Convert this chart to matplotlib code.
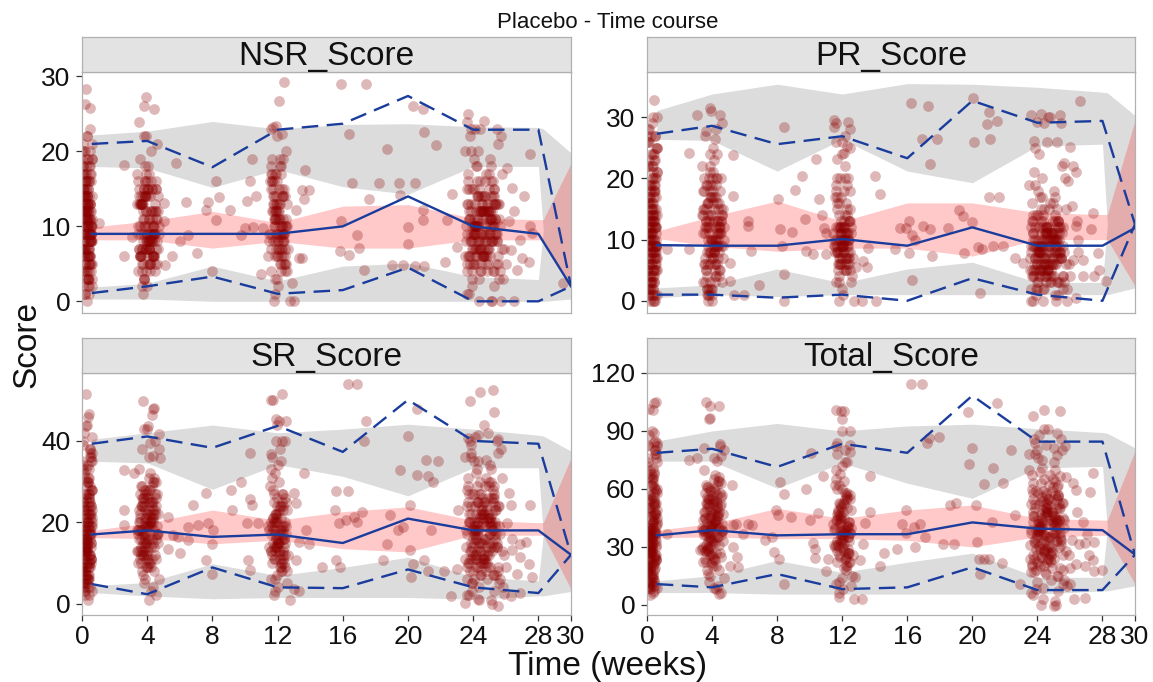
import matplotlib
matplotlib.use("Agg")
import matplotlib.pyplot as plt

plt.rcParams['font.family'] = ['Liberation Sans', 'DejaVu Sans']

# ---------------- data ----------------
bin_x = [0.6, 4, 8, 12, 16, 20, 24, 28, 30]
band_x = [0.6, 4, 8, 12, 16, 20, 24, 28, 28.3, 30]
x_ticks = [0, 4, 8, 12, 16, 20, 24, 28, 30]

# shared observation times of the dense visit clusters
t0 = [0.05,0.31,0.18,0.52,0.09,0.44,0.27,0.60,0.13,0.38,
      0.22,0.55,0.03,0.47,0.34,0.16,0.58,0.25,0.41,0.07,
      0.50,0.29,0.12,0.36,0.62,0.20,0.45,0.10,0.33,0.56,
      0.15,0.40,0.24,0.53,0.06,0.30,0.48,0.19,0.37,0.60,
      0.11,0.43,0.26,0.51,0.08,0.35,0.21,0.57,0.14,0.46,
      0.32,0.02,0.39,0.23,0.54,0.17,0.42,0.28,0.61,0.04,
      0.49,0.30,0.13,0.37,0.58,0.22,0.45,0.09,0.34,0.52,
      0.27,0.06,0.41,0.19,0.55,0.12,0.36,0.48,0.01,0.31,
      0.16,0.44,0.24,0.59,0.08,0.39,0.20,0.50,0.33,0.14,
      0.47,0.26,0.57,0.10,0.35,0.21,0.43,0.05,0.29,0.53]
t0b = [0.12,0.40,0.25,0.58,0.05,0.33,0.47,0.18,0.63,0.29,
       0.09,0.52,0.36,0.21,0.44,0.02,0.56,0.27,0.39,0.14,
       0.61,0.31,0.07,0.49,0.23,0.42,0.16,0.54,0.34,0.11,
       0.46,0.26,0.59,0.04,0.37,0.20,0.51,0.30,0.13,0.43,
       0.24,0.57,0.08,0.35,0.48,0.17,0.62,0.28,0.41,0.06,
       0.53,0.19,0.38,0.10,0.45,0.32,0.60,0.15,0.50,0.22]
t4 = [3.98,4.30,3.62,4.52,3.80,4.15,3.48,4.65,4.05,3.70,
      4.38,3.88,4.10,3.42,4.45,3.75,4.22,3.55,4.60,4.00,
      3.66,4.33,3.85,4.12,3.38,4.50,3.92,4.26,3.58,4.72,
      4.03,3.73,4.40,3.52,4.18,3.83,4.56,3.45,4.08,3.78,
      4.35,3.95,4.62,3.64,4.20,3.90,3.56,4.44,4.06,3.76,
      4.28,3.40,4.54,3.86,4.11,3.69,4.37,4.00,3.54,4.68,
      3.82,4.17,3.60,4.32,3.93,4.09,3.47,4.49,3.79,4.14,
      4.02,3.63,4.41,3.91,4.24,3.72,4.58,3.81,4.07,3.50,
      4.31,3.97,3.67,4.19,3.87,4.36,3.44,4.53,3.94,4.75]
t4b = [4.12,3.76,4.44,3.58,4.27,3.90,4.62,3.68,4.05,3.84,
       4.33,3.52,4.19,3.97,4.50,3.63,4.08,3.80,4.38,3.72,
       4.24,3.94,4.56,3.46,4.15,3.87,4.41,3.60,4.02,4.30,
       3.78,4.21,3.66,4.47,3.92,4.10,3.55,4.35,3.85,4.68,
       4.00,3.74,4.26,3.96,4.53,3.70,4.14,3.88,4.43,3.61]
t12 = [12.08,11.70,12.40,11.88,12.20,11.58,12.52,11.82,12.28,12.00,
       11.64,12.34,11.94,12.14,11.50,12.46,11.76,12.24,11.90,12.60,
       12.02,11.73,12.37,11.61,12.17,11.85,12.49,11.97,12.31,11.44,
       12.11,11.79,12.43,11.67,12.21,11.93,12.56,11.54,12.35,12.05,
       11.84,12.16,11.71,12.47,11.96,12.27,11.59,12.66,11.89,12.09,
       12.38,11.81,12.13,11.68,12.51,12.01,11.48,12.32,11.87,12.23,
       11.78,12.44,11.98,12.19,11.62,12.55,12.06,11.86,12.36,12.75]
t12b = [12.04,11.72,12.33,11.86,12.18,11.62,12.45,11.95,12.26,11.79,
        12.10,11.68,12.39,11.90,12.22,11.57,12.50,11.83,12.14,12.01,
        11.75,12.29,11.92,12.07,11.65,12.42,11.88,12.20,11.80,12.35,
        11.97,12.12,11.70,12.47,11.85,12.24,11.60,12.03,12.31,11.93]
t24 = [24.10,24.85,23.75,25.30,24.45,23.95,25.10,24.60,23.60,25.55,
       24.30,24.95,23.85,25.20,24.70,24.00,25.45,24.20,23.70,25.00,
       24.55,23.90,25.35,24.15,24.80,23.65,25.15,24.40,25.70,24.05,
       24.90,23.80,25.25,24.35,24.75,23.55,25.05,24.50,25.60,24.25,
       23.98,24.65,25.40,24.12,24.88,23.72,25.18,24.42,25.85,24.02,
       24.58,23.88,25.32,24.18,24.78,23.62,25.08,24.48,25.50,24.28,
       24.92,23.78,25.22,24.38,24.68,23.52,25.12,24.52,25.65,24.08,
       24.35,24.82,23.92,25.28,24.62,24.05,25.48,24.22,23.68,25.02,
       24.72,23.84,25.38,24.16,24.98,23.58,25.14,24.44,25.78,24.06,
       24.86,23.76,25.26,24.32,24.64,23.50,25.06,24.56,25.58,24.24,
       24.14,24.90,23.82,25.34,24.46,24.02,25.44,24.26,23.74,25.04,
       24.60,23.94,25.36,24.20,24.84,23.66,25.16,24.40,25.92,24.10,
       24.96,23.86,25.24,24.36,24.70,23.60,25.10,24.50,26.00,24.30]
t24b = [24.20,24.75,23.85,25.15,24.50,24.00,25.35,24.65,23.70,25.05,
        24.40,24.90,23.95,25.25,24.60,24.10,25.50,24.30,23.80,24.95,
        24.55,24.05,25.30,24.25,24.80,23.75,25.10,24.45,25.60,24.15,
        24.85,23.90,25.20,24.35,24.70,23.65,25.00,24.58,25.45,24.28,
        24.08,24.68,25.40,24.18,24.88,23.82,25.12,24.48,25.75,24.02,
        24.62,23.92,25.28,24.22,24.78,23.72,25.08,24.52,25.55,24.32,
        24.98,23.86,25.18,24.42,24.72,23.60,25.22,24.38,25.65,24.12]

# ---- NSR_Score ----
nsr_c0 = [9,14,5,18,2,11,7,21,12,3, 16,8,20,6,13,1,10,17,4,15, 9,22,11,7,19,13,5,12,0,16,
          8,14,3,10,18,6,23,9,12,2, 15,7,11,20,4,13,17,8,10,1, 14,6,19,9,12,5,16,11,3,21,
          8,13,7,15,10,4,18,9,2,12, 11,17,6,14,9,20,3,13,7,16, 10,5,12,19,8,15,1,11,22,6,
          13,9,17,4,10,14,7,18,12,8]
nsr_c0b = [12,6,15,9,17,4,11,8,14,10, 7,13,3,16,9,19,5,12,10,15, 8,11,14,6,18,2,13,9,12,7,
           16,10,5,14,11,20,8,13,6,9, 12,4,15,10,17,7,11,14,3,13, 9,16,6,12,8,19,10,14,5,11]
nsr_c4 = [8,15,6,12,3,9,14,7,18,5, 10,16,7,4,13,8,20,6,11,15, 2,9,14,7,17,5,12,8,19,10,
          6,13,9,15,4,11,7,16,8,3, 12,7,21,9,5,14,10,6,15,1, 8,13,11,7,17,4,9,16,6,12,
          10,5,14,8,22,7,13,9,3,11, 15,6,10,8,16,12,5,9,14,7, 11,2,13,8,18,6,10,15,4,9]
nsr_c4b = [7,14,9,6,15,12,8,13,5,16, 10,7,14,9,4,13,8,15,6,11, 12,7,16,9,5,14,8,13,10,6,
           15,9,7,12,17,8,13,6,10,14, 9,5,12,8,15,7,11,14,6,13]
nsr_c12 = [9,15,5,12,18,7,10,3,14,8, 16,11,6,19,9,4,13,7,17,10, 2,12,8,15,5,11,20,9,14,6,
           13,0,10,17,7,12,4,16,9,11, 6,18,8,14,3,10,23,7,13,15, 9,1,11,16,5,12,8,19,10,6,
           14,7,22,9,4,13,11,17,8,0]
nsr_c12b = [8,14,6,11,17,9,5,13,10,16, 7,12,15,9,4,18,11,8,13,6, 10,15,7,12,19,9,14,5,11,8,
            16,10,13,6,12,9,17,7,14,11]
nsr_c24 = [10,6,15,8,12,3,18,9,13,5, 11,7,20,4,14,9,23,6,16,12, 8,2,13,10,17,5,11,7,22,9,
           12,6,15,0,10,8,19,4,13,11, 7,14,9,23,5,12,8,16,3,10, 6,13,11,18,9,1,14,7,21,10,
           12,5,16,8,24,6,11,13,4,9, 15,7,10,2,12,19,8,14,6,11, 9,23,13,5,17,10,0,12,7,15,
           8,11,4,14,6,20,9,12,3,16, 10,7,22,13,5,11,8,18,1,12, 6,15,9,12,4,17,10,23,7,13,
           11,8,14,3,16,9,0,12,5,20]
nsr_c24b = [9,6,12,8,14,5,11,7,13,10, 4,12,8,15,6,10,13,7,11,9, 14,5,10,8,12,6,16,9,11,7,
            13,4,10,12,8,15,6,11,9,14, 7,12,5,10,13,8,11,6,17,9, 12,7,14,10,5,11,8,13,6,10,
            15,9,12,7,11,4,13,8,10,6]
nsr_sx = [0.23,0.2,0.5,1.06,2.6,2.6,3.05,3.9,3.8,4.4, 3.5,3.8,5.0,5.05,5.1,5.5,5.75,6.0,6.4,6.5,
          7.05,7.75,7.6,8.2,8.2,8.0,8.4,9.1,9.75,10.0, 10.1,10.3,10.45,10.5,10.7,11.0,11.1,12.4,12.1,12.3,
          11.7,11.9,13.7,13.5,13.6,13.9,13.15,13.3,13.5,13.0, 12.9,15.9,17.45,16.4,16.55,15.9,15.85,16.4,16.9,17.0,
          17.3,17.6,18.2,18.7,19.0,19.45,19.5,19.7,20.0,20.0, 20.3,20.95,21.0,20.4,20.4,21.0,20.9,20.9,21.7,22.3,
          22.4,22.7,23.0,23.7,23.6,26.1,26.4,26.5,26.2,26.3, 26.9,26.7,27.0,27.1,27.4,27.5,27.5,27.6,25.7,26.5,29.5]
nsr_sy = [28.3,26.3,25.8,10.4,18.2,6.1,8.6,27.3,26,25.7, 23.9,22,13.1,10.7,4.8,6,18.4,8,13.3,8.9,
          6.4,13.3,12.2,10.9,16.1,4,13.9,12.2,8.8,9.8, 13.4,16,19,9.9,14,3.7,9.8,29.2,26.7,22.3,
          23.2,23.4,17.5,14.9,13.6,14.9,12.2,5.8,5.8,0, 2.4,29,29,22.3,15.8,10.7,6.7,6.2,8.9,7.1,
          4.2,13.7,15.8,20.3,4.9,15.8,14.2,4.9,9.9,7.6, 26.1,25.7,22.6,15.8,4.7,4.7,12.2,10.9,20.9,5.3,
          10.9,14.3,7.3,25,23.9,17.8,15.1,12,10.7,6.9, 8.2,4.2,5.8,14,5.3,19.7,10,9.1,0,0,2.4]
nsr_med = [9, 9, 9, 9, 10, 14, 10, 9, 2]
nsr_p95 = [21, 21.4, 17.9, 22.9, 23.7, 27.4, 22.9, 22.9, 2]
nsr_p05 = [1.1, 2.0, 3.3, 1.0, 1.5, 4.5, 0, 0, 2]
nsr_up_lo = [18.0, 17.8, 15.2, 17.6, 15.3, 14.3, 18.0, 18.0, 9.5, 9.5]
nsr_up_hi = [22.2, 22.7, 24.0, 23.0, 23.6, 23.7, 23.3, 23.2, 23.0, 19.8]
nsr_lo_lo = [0.3, 0.3, 0.0, 0.0, 0.0, 0.0, 0.0, 0.0, 0.0, 0.3]
nsr_lo_hi = [1.9, 2.4, 4.7, 2.7, 4.7, 5.1, 3.3, 2.9, 9.5, 9.5]
nsr_md_lo = [8.2, 8.2, 7.1, 8.0, 7.1, 7.1, 8.2, 8.2, 8.2, 1.9]
nsr_md_hi = [9.9, 10.7, 12.0, 10.5, 12.7, 12.9, 11.1, 10.9, 10.9, 18.4]

# ---- PR_Score ----
pr_c0 = [10,22,4,27,1,15,8,30,12,5, 19,9,26,6,14,2,11,24,3,17, 7,29,13,0,21,10,5,16,1,25,
         9,18,3,12,28,6,20,11,2,14, 23,8,13,27,4,16,19,7,10,0, 15,5,24,9,12,3,18,11,1,26,
         8,14,6,21,10,2,17,9,30,13, 4,11,19,7,15,1,22,12,5,9, 16,3,10,25,7,13,0,18,8,28,
         12,6,20,2,14,9,23,5,11,17]
pr_c0b = [12,5,18,9,22,3,14,7,25,10, 16,1,20,8,13,27,6,11,4,19, 9,15,2,23,11,7,17,5,13,26,
          10,3,21,14,8,18,0,12,6,24, 15,9,11,2,19,13,7,16,4,22, 8,12,1,17,10,20,5,14,9,27]
pr_c4 = [10,20,5,15,2,12,18,7,25,4, 13,21,8,3,16,9,28,6,14,19, 1,11,17,8,22,5,14,10,27,12,
         7,16,11,20,3,13,9,18,10,1, 15,8,29,12,6,19,11,4,16,0, 9,14,13,6,23,2,10,17,7,15,
         12,4,19,9,31,8,15,11,1,13, 20,5,12,10,17,14,3,8,18,6, 13,0,16,9,24,7,11,20,2,10]
pr_c4b = [9,16,5,12,19,3,14,8,21,11, 6,15,10,2,18,13,7,20,9,12, 4,17,11,14,6,22,8,13,1,16,
          10,5,19,12,7,15,3,11,18,9, 14,6,20,10,13,2,17,8,12,15]
pr_c12 = [10,17,6,12,20,8,11,3,15,9, 19,7,13,5,10,25,8,16,11,4, 1,12,9,18,6,10,28,7,14,11,
          8,0,13,20,5,9,3,17,10,12, 6,22,9,15,2,11,29,7,12,18, 10,4,13,16,8,24,9,19,11,5,
          14,7,26,10,3,12,9,20,8,0]
pr_c12b = [9,6,11,8,14,10,5,12,7,16, 10,8,13,6,11,9,18,7,12,10, 5,9,11,8,15,10,7,12,6,20,
           9,11,8,13,10,7,12,9,6,17]
pr_c24 = [8,5,13,7,10,2,17,6,12,4, 9,6,19,3,12,8,29,5,14,10, 7,1,11,9,16,4,10,6,20,8,
          11,5,13,0,9,7,18,3,12,10, 6,12,8,24,4,11,7,15,2,9, 5,12,10,17,8,0,13,6,22,9,
          11,4,15,7,30,5,10,12,3,8, 14,6,9,1,11,18,7,13,5,10, 8,25,12,4,16,9,0,11,6,14,
          7,10,3,13,5,19,8,11,2,15, 9,6,21,12,4,10,7,17,0,11, 5,14,8,11,3,16,9,29,6,12,
          10,7,13,2,15,8,1,11,4,20]
pr_c24b = [7,4,10,6,12,3,9,5,11,8, 2,10,6,13,4,8,11,5,9,7, 12,3,8,6,10,4,14,7,9,5,
           11,2,8,10,6,13,4,9,7,12, 5,10,3,8,11,6,9,4,15,7, 10,5,12,8,3,9,6,11,4,8,
           13,7,10,5,9,2,11,6,8,4]
pr_sx = [0.46,1.2,2.6,2.6,3.1,3.9,4.5,3.6,4.2,4.3, 5.3,5.3,5.1,5.1,5.35,5.95,6.2,6.2,6.9,6.4,
         8.05,8.45,8.3,8.2,8.4,8.45,8.9,9.1,9.5,9.7, 9.8,10.2,10.4,10.6,10.9,10.75,11.0,11.0,11.5,12.35,
         11.5,12.2,11.6,12.3,11.7,12.1,12.85,13.2,13.3,13.5, 13.6,14.0,14.1,14.3,15.55,15.25,15.9,16.1,16.3,16.5,
         16.1,16.3,16.2,17.3,16.9,17.8,17.4,16.95,17.4,17.5, 18.5,19.2,19.4,19.5,19.95,20.05,21.0,20.9,21.5,20.1,
         21.1,20.35,20.6,20.5,21.0,21.65,21.3,21.9,22.6,23.1, 23.6,24.2,24.75,25.4,24.0,23.8,24.6,25.2,26.0,25.65,
         26.2,26.35,25.9,26.1,26.35,26.45,26.6,26.5,26.5,26.2, 26.8,26.8,27.3,27.4,27.5,27.7,27.8,28.2,25.8,26.35]
pr_sy = [32.9,8.4,24.2,8.4,30.3,31.5,30.3,27.8,26.4,24, 23.8,17.1,6.2,3.2,1.0,1.0,13,12.2,2.6,8.1,
         16.7,28.4,9.0,11.8,4.3,0,11.2,18.1,20.4,13.3, 8.1,7.6,23.2,16.6,11.9,14,7.6,11.1,29.6,29.3,
         28.4,27,25.9,25.3,23.2,24.2,5.6,0,6.5,5.6, 8.6,20.4,0,17.4,11.9,8.4,11.9,13,10.8,10,
         7.8,3.4,32.3,31.8,26.4,26.4,22.4,12.2,11.8,7.3, 11.9,14.9,13.8,7.8,12.8,33.1,30.8,28.9,29.4,25.9,
         26.4,8.8,8.4,1.3,16.9,16.9,8.9,8.9,7.0,6.2, 30.3,30.5,30,30.4,29.3,26.2,25.9,26,25.1,22.6,
         22,21.1,19.6,15.5,12.2,13,32.7,10,7.9,6.7, 6.7,4,11.7,14.4,4,7.8,5.1,3.2,0,0.4]
pr_med = [9.1, 9, 9, 10.1, 9, 12, 9, 9, 11.9]
pr_p95 = [27.3, 28.6, 25.6, 26.9, 23.3, 32.7, 29.1, 29.4, 12.5]
pr_p05 = [1.0, 1.0, 0.5, 1.0, 0, 3.7, 1.0, 0, 12.5]
pr_up_lo = [26.4, 26.2, 21.2, 26.4, 21.2, 19.3, 25.3, 25.6, 12.5, 12.5]
pr_up_hi = [31.1, 33.8, 35.4, 33.8, 35.5, 35.4, 34.9, 34.1, 34.0, 30.3]
pr_lo_lo = [0.5, 1.0, 0.7, 1.0, 1.0, 1.0, 1.0, 1.0, 1.0, 2.1]
pr_lo_hi = [2.1, 2.6, 5.2, 2.9, 5.2, 6.3, 3.0, 3.0, 12.5, 12.5]
pr_md_lo = [10.2, 8.9, 8.1, 8.6, 8.6, 7.3, 10.0, 10.0, 10.0, 2.4]
pr_md_hi = [11.4, 13.8, 16.3, 13.0, 16.0, 16.0, 14.4, 14.1, 14.1, 29.5]

# ---- SR_Score ----
sr_c0 = [17,30,8,38,4,22,13,41,19,6, 26,11,35,9,20,3,15,33,7,24, 12,44,18,1,28,14,10,23,5,36,
         16,25,7,19,39,10,29,14,4,21, 32,12,18,37,8,22,27,11,15,2, 20,9,34,13,17,6,26,16,3,40,
         12,21,10,30,15,5,24,13,46,18, 7,16,27,11,22,4,31,17,9,14, 23,6,15,35,11,19,2,25,13,42,
         17,9,28,5,20,14,33,8,16,24]
sr_c0b = [20,9,27,14,33,6,22,12,37,17, 25,4,30,13,19,8,35,16,23,11, 28,15,5,21,18,10,31,24,7,14,
          26,12,19,34,9,22,16,29,3,18, 21,11,25,15,36,8,20,13,27,17, 10,24,6,19,31,14,23,12,38,16]
sr_c4 = [18,29,12,24,5,20,33,15,9,26, 21,14,31,10,22,17,3,27,19,12, 8,23,16,28,13,40,19,25,11,6,
         22,15,30,18,10,24,2,17,26,13, 20,9,27,16,32,12,21,48,14,7, 25,18,11,23,16,29,4,19,13,22,
         17,28,10,24,15,36,20,12,26,1, 19,14,31,21,9,25,17,43,11,23, 16,27,13,20,6,22,18,30,15,38]
sr_c4b = [19,26,14,22,11,28,17,24,13,20, 25,16,21,9,27,18,23,15,30,12, 20,17,26,13,22,19,8,24,16,21,
          28,14,18,23,11,25,20,15,27,17, 22,12,19,26,16,24,10,21,18,29]
sr_c12 = [17,28,10,22,35,13,19,6,25,15, 31,12,24,9,18,40,14,27,20,8, 4,21,16,33,11,17,45,14,23,19,
          13,2,20,36,9,16,5,29,18,22, 11,38,15,26,7,19,50,12,21,30, 16,3,24,10,17,34,14,27,20,8,
          25,12,44,18,6,23,15,32,13,1]
sr_c12b = [15,21,11,18,24,13,9,20,16,27, 12,19,14,22,10,17,25,13,18,15, 20,8,16,23,12,19,14,21,11,17,
           26,13,18,15,22,10,20,16,24,14]
sr_c24 = [18,10,27,14,22,5,33,16,24,8, 20,12,36,7,25,16,40,11,29,21, 15,3,23,18,31,9,20,13,38,17,
          22,11,26,1,19,14,34,7,24,20, 12,25,17,41,9,22,15,30,4,19, 10,24,20,32,16,2,26,13,37,18,
          21,8,28,15,44,11,19,23,6,17, 27,12,18,3,22,35,14,25,10,20, 16,39,23,9,30,18,0,21,13,27,
          14,20,7,25,11,36,17,22,5,29, 19,13,40,24,8,20,15,33,2,21, 11,27,16,22,6,31,18,52,12,24,
          20,15,26,4,29,17,1,23,9,35]
sr_c24b = [16,10,22,13,27,8,19,12,25,17, 7,21,14,29,11,18,24,9,20,15, 26,6,17,13,23,10,30,15,19,12,
           24,5,18,21,11,28,9,20,14,25, 12,22,7,16,26,13,19,10,31,15, 21,11,27,17,8,20,14,24,9,18,
           29,13,22,10,19,6,25,14,17,11]
sr_sx = [0.23,0.4,0.23,2.6,2.6,2.6,3.2,3.75,4.35,4.3, 4.0,4.2,3.7,4.35,4.8,4.75,4.05,5.3,5.6,5.3,
         6.0,5.9,6.5,6.5,6.8,7.1,7.6,7.75,8.05,8.0, 7.6,8.0,9.15,9.2,9.75,10.3,10.3,10.45,10.2,10.3,
         10.1,10.8,11.7,12.3,11.9,12.1,11.9,12.3,11.6,13.0, 13.6,13.15,13.3,13.75,13.95,13.15,13.0,13.3,14.75,15.6,
         16.3,15.5,15.75,15.6,15.85,16.3,16.9,17.45,17.3,16.2, 16.7,17.15,16.9,18.45,18.7,18.9,19.4,19.5,19.7,20.0,
         20.1,20.15,20.3,20.2,20.55,20.55,21.1,21.25,21.55,21.85, 21.4,21.0,21.25,22.2,22.65,23.0,23.05,23.8,25.2,25.25,
         23.7,24.3,24.9,25.5,23.85,24.8,26.2,26.3,26.1,26.4, 26.4,26.9,27.25,26.9,26.7,27.5,27.4,27.6,26.3,26.9,
         25.5,23.5,24.3,25.9]
sr_sy = [51.6,46.6,43.7,32.9,19.3,23,32.1,49.7,47.8,46.4, 42.9,39.6,37.9,36.3,35.8,41.8,43.7,21.4,16.8,13.5,
         12.4,16.4,15.6,18.9,24.3,19.3,27.2,19.7,18,14.7, 10.6,7.3,28,23,30,37.1,25.7,24.3,10.6,8.3,
         19.7,19.7,50.1,51.6,45.4,45,40,40,36.7,27.2, 32.1,24.7,15.1,18,14.7,10.6,3.6,3.1,8.9,27.7,
         27.7,23,19.7,10.8,8.9,54.1,54.1,45,40,20.5, 21.4,22.6,20.1,10.6,14.7,21.8,18,32.9,18.9,41.2,
         24.3,13.1,9.8,6.6,47.8,31.7,35.4,31.3,30,35, 18,10.6,8.1,8.1,1.9,8.5,23,49.7,52.4,47,
         40.8,41.4,42,40.4,37.1,35.2,27.2,24.3,19.7,16, 13.1,14.7,15.1,11.4,7.3,24.3,9.8,6.6,1.9,2.7,
         -0.6,0.2,1.1,2.3]
sr_med = [17, 18, 16.4, 17, 14.9, 20.9, 18, 18, 12]
sr_p95 = [39.3, 41.1, 38.3, 43.7, 37.3, 50.1, 40, 39.3, 12]
sr_p05 = [4.8, 2.3, 8.9, 4.0, 3.8, 8.4, 4, 2.6, 12]
sr_up_lo = [35.0, 34.6, 28.1, 34.2, 31.3, 26.5, 33.4, 33.4, 17.0, 17.0]
sr_up_hi = [40.4, 42.0, 43.9, 42.0, 42.9, 44.1, 42.9, 41.4, 41.2, 37.5]
sr_lo_lo = [2.7, 1.9, 1.2, 1.5, 1.5, 1.5, 1.1, 1.9, 1.9, 3.0]
sr_lo_hi = [4.4, 5.2, 9.8, 6.9, 8.9, 11.4, 6.6, 5.6, 17.0, 17.0]
sr_md_lo = [16.2, 16.0, 14.7, 15.6, 13.5, 12.7, 16.8, 16.8, 16.8, 3.6]
sr_md_hi = [18.0, 19.8, 23.0, 20.5, 22.6, 23.8, 20.5, 19.9, 19.9, 35.8]

# ---- Total_Score ----
tt_c0 = [36,62,18,80,9,47,27,84,40,14, 55,24,72,19,43,8,31,68,12,50, 26,90,38,6,58,30,21,49,11,76,
         34,53,15,41,82,22,60,29,10,45, 66,25,39,78,17,46,57,23,32,7, 42,19,71,28,37,13,54,35,9,83,
         25,44,20,63,33,12,51,27,101,38, 16,35,56,23,47,10,65,36,18,30, 48,13,31,74,24,40,5,52,28,88,
         37,20,59,11,43,29,69,17,34,105]
tt_c0b = [40,18,62,30,74,14,48,25,82,35, 55,10,66,28,44,21,78,36,52,24, 60,33,12,47,39,22,70,53,16,31,
          58,27,42,76,20,50,34,65,9,38, 46,26,57,32,80,19,43,29,61,37, 23,54,15,41,68,31,49,27,85,36]
tt_c4 = [40,62,28,52,12,44,70,33,20,56, 46,30,65,22,48,37,8,58,42,27, 18,50,35,60,29,82,41,54,24,14,
         47,33,64,39,23,51,6,38,55,30, 43,21,57,36,67,26,45,103,32,16, 53,40,25,49,35,61,10,42,28,47,
         37,59,22,51,34,76,44,27,55,9, 41,31,66,45,20,53,38,96,25,48, 35,57,29,43,15,47,39,63,33,80]
tt_c4b = [42,55,31,48,27,60,38,50,33,45, 57,36,47,22,58,40,52,34,64,29, 44,39,56,30,49,41,18,53,37,46,
          61,32,43,51,26,54,45,35,59,39, 48,28,42,55,36,52,24,46,40,62]
tt_c12 = [37,60,22,47,74,30,40,12,55,33, 65,27,50,19,39,83,31,57,44,15, 8,46,35,70,24,38,90,30,50,42,
          28,4,43,78,20,36,10,62,40,48, 25,80,33,55,14,41,101,26,45,64, 35,6,52,22,37,72,31,58,43,18,
          53,27,96,39,11,49,34,68,29,3]
tt_c12b = [35,48,27,42,58,31,22,46,38,62, 29,44,33,51,25,40,57,30,45,36, 49,20,39,53,28,43,34,55,26,41,
           60,32,47,37,52,24,44,38,56,33]
tt_c24 = [40,22,58,30,48,12,70,35,52,18, 44,27,78,15,55,36,86,25,63,46, 33,8,50,40,67,20,44,28,82,38,
          48,24,57,3,42,31,74,16,53,45, 26,55,37,88,19,48,33,65,10,42, 22,52,44,69,35,6,57,29,80,40,
          46,17,61,33,91,24,41,50,13,37, 59,26,39,7,48,76,31,54,21,43, 35,84,50,20,65,39,0,46,28,58,
          30,43,15,54,24,78,37,48,11,63, 41,28,86,52,17,44,33,71,5,46, 24,59,35,47,13,67,39,101,26,52,
          43,32,56,9,62,37,2,50,19,75]
tt_c24b = [38,27,50,33,58,22,44,30,55,41, 20,48,35,62,28,42,53,25,46,37, 57,21,40,32,51,26,64,36,45,29,
           54,18,43,49,31,60,24,47,34,56, 30,52,19,39,59,33,45,27,66,38, 49,29,57,41,23,46,35,53,26,43,
           61,34,50,28,44,17,55,36,40,31]
tt_sx = [0.1,0.45,0.45,0.4,1.2,2.6,3.1,3.25,3.65,3.9, 3.9,3.5,4.5,4.55,4.3,4.45,5.2,5.1,5.3,5.5,
         5.3,5.55,5.6,5.9,6.2,6.45,7.25,7.7,7.95,8.05, 7.8,8.15,8.45,8.1,8.4,8.85,9.8,10.0,10.1,10.2,
         10.3,10.3,10.5,10.8,11.1,11.0,11.95,12.1,12.0,11.7, 12.5,12.3,11.6,13.2,12.8,13.1,13.3,13.4,13.7,13.7,
         14.35,14.6,15.35,15.65,15.95,15.95,16.2,16.9,16.5,16.4, 16.8,17.1,17.2,17.35,17.95,18.2,18.9,18.6,19.0,19.8,
         19.75,20.0,20.2,20.3,20.4,20.7,21.0,20.5,20.7,21.2, 21.3,21.5,21.8,21.9,22.35,22.6,22.9,23.7,24.4,25.4,
         23.95,24.5,25.2,25.0,25.2,23.5,25.4,26.2,26.35,26.45, 25.65,26.8,27.05,26.1,26.55,26.9,27.5,27.4,27.25,26.35,
         26.9,27.15,27.4,27.95,27.5,26.25,26.9,25.0,24.2,26.0]
tt_sy = [101.3,104.5,88.8,83.9,36.9,75.2,76.1,28.2,105.2,102.7, 96.5,81.3,83.4,77.3,74.4,5.6,62.2,20.4,41.3,42.1,
         29.9,24.7,19.5,36.6,42.1,41.3,33.4,35.2,49.1,46.5, 27.3,63.4,57.5,23.9,10.8,45.6,59.9,44.2,78.7,32,
         29.1,24.4,47.4,66.5,23.9,17.8,100.5,100.5,90,83.9, 79,73.8,82.2,3,14.3,23,31.7,42.5,48.2,66.5,
         20.4,26.8,29.1,42.1,49.1,37.3,114.4,114.4,29.9,40.4, 42.1,35.2,83.9,86.5,87.1,31.7,31.7,51.7,52.9,73.1,
         99.9,81.3,51.7,32.6,23.9,23.9,23.9,16,62.7,43, 70.9,104.5,21.6,63,80.4,46.5,10.8,97.9,90.9,100.5,
         80.4,83,89.2,81.3,77.8,70,66.5,63,59.5,48.2, 43.9,43,36.9,33.4,31.7,32,32.6,68.3,58.2,21.2,
         20.4,26.1,23,18.1,17.8,3,3.8,-0.5,0,10.8]
tt_med = [36, 38.7, 36, 36.6, 36.6, 42.7, 39.5, 38.7, 26.1]
tt_p95 = [78.7, 80.8, 71.4, 83.4, 78.7, 108.3, 84.5, 84.5, 26]
tt_p05 = [10.8, 9.1, 16, 8.2, 9.1, 19.5, 7.7, 7.7, 26]
tt_up_lo = [74.4, 74.4, 60.4, 73.5, 63.0, 55.2, 70.9, 71.7, 40.0, 40.0]
tt_up_hi = [84.8, 90.0, 93.9, 90.0, 92.6, 93.5, 91.2, 89.2, 88.8, 81.3]
tt_lo_lo = [6.4, 6.4, 5.6, 5.6, 5.6, 5.6, 5.6, 7.3, 7.3, 9.9]
tt_lo_hi = [12.5, 15.1, 23.0, 16.9, 22.1, 26.8, 14.3, 14.3, 40.0, 40.0]
tt_md_lo = [34.8, 35.2, 34.3, 34.3, 33.4, 30.0, 35.2, 36.0, 36.0, 10.8]
tt_md_hi = [38.7, 42.1, 50.0, 44.8, 49.1, 51.7, 44.8, 43.9, 43.9, 79.6]

panel_names = ['NSR_Score', 'PR_Score', 'SR_Score', 'Total_Score']
y_ticks = {'NSR_Score': [0, 10, 20, 30], 'PR_Score': [0, 10, 20, 30],
           'SR_Score': [0, 20, 40], 'Total_Score': [0, 30, 60, 90, 120]}
y_lims = {'NSR_Score': (-1.56, 30.6), 'PR_Score': (-2.0, 37.4),
          'SR_Score': (-2.8, 56.7), 'Total_Score': (-5.2, 120.0)}

panel_points = {
    'NSR_Score': [(t0, nsr_c0), (t0b, nsr_c0b), (t4, nsr_c4), (t4b, nsr_c4b), (t12, nsr_c12),
                  (t12b, nsr_c12b), (t24, nsr_c24), (t24b, nsr_c24b), (nsr_sx, nsr_sy)],
    'PR_Score': [(t0, pr_c0), (t0b, pr_c0b), (t4, pr_c4), (t4b, pr_c4b), (t12, pr_c12),
                 (t12b, pr_c12b), (t24, pr_c24), (t24b, pr_c24b), (pr_sx, pr_sy)],
    'SR_Score': [(t0, sr_c0), (t0b, sr_c0b), (t4, sr_c4), (t4b, sr_c4b), (t12, sr_c12),
                 (t12b, sr_c12b), (t24, sr_c24), (t24b, sr_c24b), (sr_sx, sr_sy)],
    'Total_Score': [(t0, tt_c0), (t0b, tt_c0b), (t4, tt_c4), (t4b, tt_c4b), (t12, tt_c12),
                    (t12b, tt_c12b), (t24, tt_c24), (t24b, tt_c24b), (tt_sx, tt_sy)],
}
panel_lines = {
    'NSR_Score': (nsr_med, nsr_p95, nsr_p05, nsr_up_lo, nsr_up_hi, nsr_lo_lo, nsr_lo_hi, nsr_md_lo, nsr_md_hi),
    'PR_Score': (pr_med, pr_p95, pr_p05, pr_up_lo, pr_up_hi, pr_lo_lo, pr_lo_hi, pr_md_lo, pr_md_hi),
    'SR_Score': (sr_med, sr_p95, sr_p05, sr_up_lo, sr_up_hi, sr_lo_lo, sr_lo_hi, sr_md_lo, sr_md_hi),
    'Total_Score': (tt_med, tt_p95, tt_p05, tt_up_lo, tt_up_hi, tt_lo_lo, tt_lo_hi, tt_md_lo, tt_md_hi),
}

# ---------------- layout ----------------
W, H = 1153, 682
fig = plt.figure(figsize=(W / 100, H / 100), dpi=100)


def rect(l, t, r, b):
    return [l / W, 1 - b / H, (r - l) / W, (b - t) / H]


boxes = {
    'NSR_Score': (82, 72, 571, 313),
    'PR_Score': (647, 72, 1135, 313),
    'SR_Score': (82, 373, 571, 615),
    'Total_Score': (647, 373, 1135, 615),
}
STRIP_H = 35
BORDER = '#B0B0B0'
PT_COL = '#8B0000'
LINE_COL = '#1A3C9C'

for name in panel_names:
    l, t, r, b = boxes[name]
    med, p95, p05, up_lo, up_hi, lo_lo, lo_hi, md_lo, md_hi = panel_lines[name]
    ax = fig.add_axes(rect(l, t, r, b))
    # prediction-interval bands
    ax.fill_between(band_x, up_lo, up_hi, color='#7F7F7F', alpha=0.27, lw=0, zorder=1)
    ax.fill_between(band_x, lo_lo, lo_hi, color='#7F7F7F', alpha=0.27, lw=0, zorder=1)
    ax.fill_between(band_x, md_lo, md_hi, color='#FF0000', alpha=0.21, lw=0, zorder=1)
    # observations
    xs, ys = [], []
    for tt, cc in panel_points[name]:
        for a, v in zip(tt, cc):
            xs.append(a)
            ys.append(v)
    ax.scatter(xs, ys, s=60, color=PT_COL, alpha=0.28, linewidths=0, zorder=2)
    # observed percentiles
    ax.plot(bin_x, med, color=LINE_COL, lw=1.7, zorder=3)
    for yy in (p95, p05):
        ln, = ax.plot(bin_x, yy, color=LINE_COL, lw=1.7, zorder=3)
        ln.set_dashes([7.0, 3.6])
    ax.set_xlim(0, 30)
    ax.set_ylim(*y_lims[name])
    ax.set_yticks(y_ticks[name])
    ax.set_xticks(x_ticks)
    for sp in ax.spines.values():
        sp.set_color(BORDER)
        sp.set_linewidth(0.9)
    ax.tick_params(axis='both', direction='out', length=4.5, width=0.9, color='#333333',
                   labelsize=19, labelcolor='#111111', pad=4)
    if t > 300:
        ax.tick_params(axis='x', bottom=True, labelbottom=True, pad=3)
    else:
        ax.tick_params(axis='x', bottom=False, labelbottom=False)
    # strip
    sax = fig.add_axes(rect(l, t - STRIP_H, r, t))
    sax.set_facecolor('#E3E3E3')
    sax.set_xticks([])
    sax.set_yticks([])
    for sp in sax.spines.values():
        sp.set_color(BORDER)
        sp.set_linewidth(0.9)
    sax.text(0.5, 0.45, name, transform=sax.transAxes, ha='center', va='center',
             fontsize=24, color='#111111')

fig.text(608 / W, 1 - 23 / H, 'Placebo - Time course', ha='center', va='center',
         fontsize=16, color='#111111')
fig.text(608 / W, 1 - 666 / H, 'Time (weeks)', ha='center', va='center',
         fontsize=24, color='#111111')
fig.text(27 / W, 1 - 345 / H, 'Score', ha='center', va='center', rotation=90,
         fontsize=24, color='#111111')

fig.savefig('out.png', dpi=100)
